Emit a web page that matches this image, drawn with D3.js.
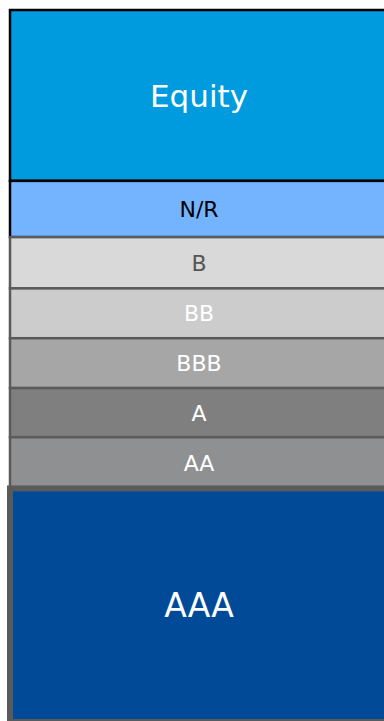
<!DOCTYPE html>
<html>
<head>
<meta charset="utf-8">
<script src="https://cdn.jsdelivr.net/npm/d3@7"></script>
<style>
  html, body { margin: 0; padding: 0; background: #fff; overflow: hidden; }
</style>
</head>
<body>
<div id="chart-area"></div>
<script>
// tranches, bottom to top
let tranches = ["AAA", "AA", "A", "BBB", "BB", "B", "N/R", "Equity"];
let shares = [32.8, 7.2, 6.9, 7.0, 7.0, 7.2, 7.9, 24.0];
let fills = ["#004a98", "#8f9092", "#7f7f7f", "#a6a6a6", "#cbcccb", "#d9d9d9", "#74b4ff", "#009ade"];
let textColors = ["#fff", "#fff", "#fff", "#fff", "#fff", "#555", "#000", "#fff"];

let width = 384, height = 721;

let svg = d3.select("#chart-area")
    .append("svg")
    .attr("width", width)
    .attr("height", height);

let data = [];
let acc = 0;
tranches.forEach(function(t, i) {
    data.push({ name: t, y0: acc, y1: acc + shares[i], fill: fills[i], text: textColors[i] });
    acc += shares[i];
});

let x = d3.scaleBand()
    .domain(["Capital"])
    .range([10, 388])
    .padding(0);

let y = d3.scaleLinear()
    .domain([0, d3.sum(shares)])
    .range([722, 10]);

function strokeOf(d) {
    if (d.name == "Equity" || d.name == "N/R") return "#000";
    return "#5a5a5a";
}

// draw top-down so the AAA border ends up on top
let order = data.slice().reverse();

svg.selectAll("rect.seg")
    .data(order)
    .enter()
    .append("rect")
    .attr("class", "seg")
    .attr("x", x("Capital"))
    .attr("width", x.bandwidth())
    .attr("y", function(d) { return y(d.y1); })
    .attr("height", function(d) { return y(d.y0) - y(d.y1); })
    .attr("fill", function(d) { return d.fill; })
    .attr("stroke", strokeOf)
    .attr("stroke-width", function(d) { return d.name == "AAA" ? 6 : 2.5; });

svg.selectAll("text.lbl")
    .data(order)
    .enter()
    .append("text")
    .attr("class", "lbl")
    .attr("x", x("Capital") + x.bandwidth() / 2)
    .attr("y", function(d) { return (y(d.y0) + y(d.y1)) / 2; })
    .attr("dy", "0.36em")
    .attr("text-anchor", "middle")
    .attr("font-family", "'DejaVu Sans', sans-serif")
    .attr("font-size", function(d) {
        if (d.name == "Equity") return "31px";
        if (d.name == "AAA") return "33px";
        return "22px";
    })
    .attr("fill", function(d) { return d.text; })
    .text(function(d) { return d.name; });
</script>
</body>
</html>
